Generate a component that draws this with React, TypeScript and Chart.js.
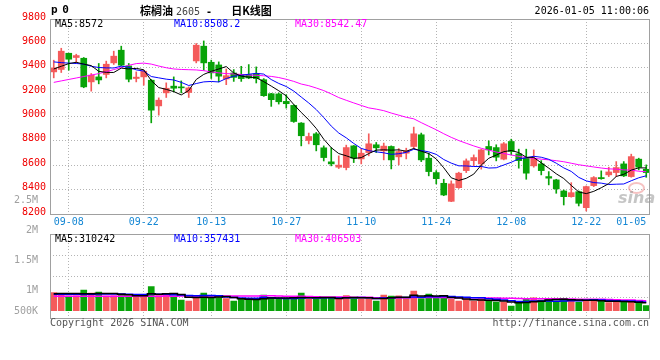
import React, { useEffect, useRef } from "react";
import { Chart, registerables } from "chart.js";

Chart.register(...registerables);

// ---------------- data ----------------
const DATES = [
  "09-04", "09-05", "09-08", "09-09", "09-10", "09-11", "09-12", "09-15", "09-16", "09-17",
  "09-18", "09-19", "09-22", "09-23", "09-24", "09-25", "09-26", "09-29", "09-30", "10-09",
  "10-10", "10-13", "10-14", "10-15", "10-16", "10-17", "10-20", "10-21", "10-22", "10-23",
  "10-24", "10-27", "10-28", "10-29", "10-30", "10-31", "11-03", "11-04", "11-05", "11-06",
  "11-07", "11-10", "11-11", "11-12", "11-13", "11-14", "11-17", "11-18", "11-19", "11-20",
  "11-21", "11-24", "11-25", "11-26", "11-27", "11-28", "12-01", "12-02", "12-03", "12-04",
  "12-05", "12-08", "12-09", "12-10", "12-11", "12-12", "12-15", "12-16", "12-17", "12-18",
  "12-19", "12-22", "12-23", "12-24", "12-25", "12-26", "12-29", "12-30", "12-31", "01-05",
];

const OPEN = [
  9366, 9386, 9519, 9484, 9478, 9284, 9325, 9345, 9440, 9544,
  9415, 9312, 9325, 9298, 9087, 9194, 9249, 9240, 9197, 9456,
  9577, 9445, 9423, 9308, 9357, 9343, 9343, 9349, 9302, 9187,
  9185, 9124, 9091, 8946, 8803, 8858, 8743, 8628, 8584, 8581,
  8759, 8652, 8704, 8768, 8718, 8754, 8669, 8699, 8754, 8850,
  8658, 8540, 8452, 8304, 8416, 8556, 8638, 8611, 8754, 8745,
  8650, 8795, 8694, 8658, 8595, 8611, 8507, 8480, 8389, 8342,
  8383, 8252, 8433, 8499, 8521, 8540, 8611, 8507, 8650, 8567,
];
const HIGH = [
  9462, 9560, 9519, 9511, 9484, 9353, 9435, 9454, 9536, 9577,
  9435, 9366, 9380, 9304, 9153, 9276, 9325, 9292, 9243, 9599,
  9620, 9462, 9448, 9390, 9385, 9412, 9426, 9407, 9311, 9190,
  9193, 9179, 9097, 8950, 8864, 8869, 8759, 8745, 8677, 8765,
  8762, 8737, 8858, 8787, 8782, 8759, 8737, 8740, 8913, 8864,
  8699, 8556, 8485, 8472, 8543, 8652, 8685, 8730, 8800, 8768,
  8787, 8814, 8732, 8732, 8726, 8638, 8548, 8485, 8397, 8457,
  8389, 8430, 8507, 8554, 8584, 8630, 8630, 8691, 8658, 8603,
];
const LOW = [
  9317, 9361, 9380, 9440, 9236, 9208, 9268, 9317, 9427, 9415,
  9284, 9284, 9257, 8948, 9011, 9156, 9202, 9194, 9156, 9440,
  9380, 9312, 9284, 9261, 9288, 9288, 9310, 9275, 9165, 9083,
  9102, 9069, 8952, 8759, 8775, 8718, 8635, 8595, 8573, 8562,
  8622, 8611, 8677, 8704, 8644, 8570, 8603, 8652, 8740, 8630,
  8513, 8447, 8350, 8301, 8410, 8540, 8597, 8568, 8685, 8636,
  8644, 8685, 8576, 8485, 8584, 8521, 8439, 8370, 8274, 8338,
  8266, 8225, 8425, 8485, 8507, 8507, 8507, 8502, 8562, 8501,
];
const CLOSE = [
  9399, 9536, 9470, 9500, 9243, 9339, 9300, 9429, 9495, 9421,
  9306, 9323, 9372, 9052, 9134, 9232, 9232, 9235, 9235, 9585,
  9440, 9358, 9331, 9335, 9321, 9311, 9316, 9311, 9171, 9138,
  9121, 9105, 8959, 8842, 8836, 8768, 8663, 8611, 8601, 8745,
  8658, 8699, 8776, 8743, 8757, 8644, 8712, 8718, 8858, 8644,
  8548, 8490, 8356, 8447, 8535, 8636, 8663, 8726, 8726, 8666,
  8776, 8713, 8638, 8535, 8658, 8556, 8494, 8406, 8342, 8375,
  8288, 8425, 8499, 8490, 8545, 8581, 8513, 8671, 8584, 8540,
];
const VOLUME = [
  729000, 689000, 595000, 598000, 838000, 717000, 757000, 592000, 601000, 676000,
  594000, 567000, 597000, 972000, 608000, 688000, 596000, 433000, 393000, 567000,
  717000, 566000, 527000, 486000, 393000, 458000, 455000, 498000, 636000, 526000,
  457000, 459000, 528000, 717000, 458000, 456000, 527000, 498000, 555000, 608000,
  486000, 485000, 488000, 393000, 636000, 595000, 597000, 486000, 798000, 487000,
  676000, 527000, 525000, 458000, 393000, 457000, 392000, 486000, 394000, 352000,
  353000, 190000, 296000, 458000, 526000, 433000, 457000, 393000, 498000, 457000,
  352000, 405000, 406000, 404000, 324000, 365000, 364000, 366000, 296000, 203000,
];

// Moving-average values before enough history exists
const MA5_HEAD = [9390, 9412, 9434, 9445];
const MA10_HEAD = [9448, 9442, 9438, 9435, 9430, 9412, 9402, 9399, 9398];
const MA30_HEAD = [
  9280, 9292, 9304, 9316, 9328, 9340, 9352, 9368, 9385, 9402,
  9420, 9434, 9438, 9430, 9414, 9400, 9390, 9386, 9384, 9382,
  9376, 9366, 9358, 9352, 9349, 9345, 9340, 9338, 9334,
];
const VMA5_HEAD = [688000, 695000, 700000, 692000];
const VMA10_HEAD = [664000, 662000, 665000, 667000, 668000, 671000, 673000, 676000, 678000];
const VMA30_HEAD = [
  583000, 584000, 583000, 585000, 584000, 586000, 585000, 584000, 586000, 587000,
  585000, 586000, 588000, 590000, 589000, 591000, 590000, 592000, 593000, 595000,
  594000, 596000, 595000, 597000, 598000, 599000, 598000, 600000, 601000,
];

const PRICE_MIN = 8200;
const PRICE_MAX = 9800;
const PRICE_STEP = 200;
const X_TICK_LABELS = ["09-08", "09-22", "10-13", "10-27", "11-10", "11-24", "12-08", "12-22", "01-05"];
const VOL_TICK_LABELS = ["2.5M", "2M", "1.5M", "1M", "500K"];

const MA_TEXT = ["MA5:8572", "MA10:8508.2", "MA30:8542.47"];
const VMA_TEXT = ["MA5:310242", "MA10:357431", "MA30:406503"];

// ---------------- styling ----------------
const RED = "#f45b5b";
const GREEN = "#08a308";
const GRID = "#b4b4b4";
const FRAME = "#a0a0a0";
const MONO = "'DejaVu Sans Mono', 'Liberation Mono', monospace";

function movingAverage(values: number[], n: number, head: number[]): number[] {
  return values.map((_, i) => {
    if (i < n - 1) return head[i];
    let s = 0;
    for (let k = i - n + 1; k <= i; k++) s += values[k];
    return s / n;
  });
}

const candleColors = CLOSE.map((c, i) => (c >= OPEN[i] ? RED : GREEN));

const framePlugin = {
  id: "frame",
  afterDraw(chart: any) {
    const { ctx, chartArea: a } = chart;
    ctx.save();
    ctx.strokeStyle = FRAME;
    ctx.lineWidth = 1;
    ctx.strokeRect(
      Math.round(a.left) + 0.5,
      Math.round(a.top) + 0.5,
      Math.round(a.right - a.left) - 1,
      Math.round(a.bottom - a.top)
    );
    ctx.restore();
  },
};

const xGridColor = (ctx: any) => {
  const d = DATES[ctx.index];
  return X_TICK_LABELS.includes(d) && ctx.index < DATES.length - 1 ? GRID : "rgba(0,0,0,0)";
};

export default function App() {
  const priceRef = useRef<HTMLCanvasElement>(null);
  const volRef = useRef<HTMLCanvasElement>(null);

  useEffect(() => {
    const ma5 = movingAverage(CLOSE, 5, MA5_HEAD);
    const ma10 = movingAverage(CLOSE, 10, MA10_HEAD);
    const ma30 = movingAverage(CLOSE, 30, MA30_HEAD);
    const vma5 = movingAverage(VOLUME, 5, VMA5_HEAD);
    const vma10 = movingAverage(VOLUME, 10, VMA10_HEAD);
    const vma30 = movingAverage(VOLUME, 30, VMA30_HEAD);

    const lineDs = (label: string, data: number[], color: string, extra: any = {}) => ({
      type: "line" as const,
      label,
      data,
      borderColor: color,
      borderWidth: 1,
      pointRadius: 0,
      tension: 0,
      order: 1,
      ...extra,
    });

    const price = new Chart(priceRef.current!, {
      type: "bar",
      data: {
        labels: DATES,
        datasets: [
          {
            type: "bar",
            label: "wick",
            data: LOW.map((l, i) => [l, HIGH[i]]) as any,
            backgroundColor: candleColors,
            barThickness: 1,
            grouped: false,
            order: 3,
          } as any,
          {
            type: "bar",
            label: "body",
            data: OPEN.map((o, i) => [o, CLOSE[i]]) as any,
            backgroundColor: candleColors,
            barThickness: 6,
            minBarLength: 1,
            grouped: false,
            order: 2,
          } as any,
          lineDs("MA5", ma5, "#000000"),
          lineDs("MA10", ma10, "#0000ff"),
          lineDs("MA30", ma30, "#ff00ff"),
        ],
      },
      options: {
        animation: false,
        responsive: false,
        maintainAspectRatio: false,
        layout: { padding: { top: 19, right: 10, bottom: 0, left: 0 } },
        plugins: { legend: { display: false }, tooltip: { enabled: false } },
        scales: {
          x: {
            type: "category",
            offset: true,
            grid: { offset: false, drawTicks: false, color: xGridColor },
            border: { display: false, dash: [1, 2] },
            ticks: {
              autoSkip: false,
              maxRotation: 0,
              minRotation: 0,
              align: "inner",
              padding: 2,
              color: "#1587d4",
              font: { family: MONO, size: 10 },
              callback: (_v: any, i: number) => (X_TICK_LABELS.includes(DATES[i]) ? DATES[i] : ""),
            },
            afterFit: (s: any) => {
              s.height = 18;
              s.paddingLeft = 0;
              s.paddingRight = 0;
            },
          },
          y: {
            type: "linear",
            min: PRICE_MIN,
            max: PRICE_MAX,
            ticks: {
              stepSize: PRICE_STEP,
              autoSkip: false,
              color: "#f00000",
              padding: 4,
              labelOffset: -2,
              font: { family: MONO, size: 10 },
              callback: (v: any) => String(v),
            },
            grid: {
              drawTicks: false,
              color: (ctx: any) =>
                ctx.tick && (ctx.tick.value === PRICE_MIN || ctx.tick.value === PRICE_MAX)
                  ? "rgba(0,0,0,0)"
                  : GRID,
            },
            border: { display: false, dash: [1, 2] },
            afterFit: (s: any) => {
              s.width = 50;
            },
          },
        },
      } as any,
      plugins: [framePlugin],
    });

    const vol = new Chart(volRef.current!, {
      type: "bar",
      data: {
        labels: DATES,
        datasets: [
          {
            type: "bar",
            label: "volume",
            data: VOLUME,
            backgroundColor: candleColors,
            barThickness: 6,
            yAxisID: "v",
            order: 2,
          } as any,
          lineDs("VMA5", vma5, "#000000", { yAxisID: "v", stepped: "middle", borderWidth: 1.5 }),
          lineDs("VMA10", vma10, "#0000ff", { yAxisID: "v", stepped: "middle", borderWidth: 1.5 }),
          lineDs("VMA30", vma30, "#ff00ff", { yAxisID: "v", stepped: "middle", borderWidth: 1.5 }),
        ],
      },
      options: {
        animation: false,
        responsive: false,
        maintainAspectRatio: false,
        layout: { padding: { top: 46, right: 10, bottom: 41.7, left: 0 } },
        plugins: { legend: { display: false }, tooltip: { enabled: false } },
        scales: {
          x: {
            type: "category",
            offset: true,
            grid: { offset: false, drawTicks: false, color: xGridColor },
            border: { display: false, dash: [1, 2] },
            ticks: { display: false },
            afterFit: (s: any) => {
              s.height = 0;
              s.paddingLeft = 0;
              s.paddingRight = 0;
            },
          },
          v: {
            type: "linear",
            display: false,
            min: -308000,
            max: 3106000,
          },
          vgrid: {
            type: "linear",
            position: "right",
            min: 0,
            max: 4,
            ticks: { display: false, stepSize: 1 },
            grid: {
              drawTicks: false,
              color: (ctx: any) =>
                ctx.tick && (ctx.tick.value === 0 || ctx.tick.value === 4) ? "rgba(0,0,0,0)" : GRID,
            },
            border: { display: false, dash: [1, 2] },
            afterFit: (s: any) => {
              s.width = 0;
            },
          },
          vlab: {
            type: "linear",
            position: "left",
            min: 0,
            max: 4,
            grid: { display: false },
            border: { display: false },
            ticks: {
              autoSkip: false,
              color: "#a0a0a0",
              padding: 4,
              font: { family: MONO, size: 10 },
              callback: (_v: any, i: number) => VOL_TICK_LABELS[i],
            },
            afterBuildTicks: (s: any) => {
              // label slots on the 4-band volume grid
              s.ticks = [5.58, 4.19, 2.77, 1.34, 0.35].map((value) => ({ value }));
            },
            afterFit: (s: any) => {
              s.width = 50;
            },
          },
        },
      } as any,
      plugins: [framePlugin],
    });

    return () => {
      price.destroy();
      vol.destroy();
    };
  }, []);

  const txt = (style: React.CSSProperties): React.CSSProperties => ({
    position: "absolute",
    fontFamily: MONO,
    fontSize: 10,
    lineHeight: "12px",
    whiteSpace: "pre",
    ...style,
  });

  return (
    <div
      style={{
        position: "fixed",
        left: 0,
        top: 0,
        width: 660,
        height: 360,
        background: "#ffffff",
        overflow: "hidden",
      }}
    >
      <canvas
        ref={priceRef}
        width={660}
        height={232}
        style={{ position: "absolute", left: 0, top: 0 }}
      />
      <canvas
        ref={volRef}
        width={660}
        height={172}
        style={{ position: "absolute", left: 0, top: 188 }}
      />

      {/* header */}
      <div style={txt({ left: 51, top: 3, fontSize: 11, fontWeight: "bold", lineHeight: "13px", letterSpacing: "-1px", color: "#000" })}>
        p 0
      </div>
      <div style={{ position: "absolute", left: 140, top: 2, lineHeight: "15px", whiteSpace: "pre", color: "#000" }}>
        <span style={{ fontFamily: "'Noto Sans CJK SC'", fontWeight: "bold", fontSize: 11 }}>棕榈油</span>
        <span style={{ fontFamily: MONO, fontSize: 10, color: "#444", marginLeft: 3 }}>2605</span>
        <span style={{ fontFamily: MONO, fontSize: 10, fontWeight: "bold" }}> - </span>
        <span style={{ fontFamily: "'Noto Sans CJK SC'", fontWeight: "bold", fontSize: 11, marginLeft: 13 }}>日K线图</span>
      </div>
      <div style={txt({ right: 11, top: 5, color: "#000" })}>2026-01-05 11:00:06</div>

      {/* price MA legend */}
      <div style={txt({ left: 55, top: 18, color: "#000" })}>{MA_TEXT[0]}</div>
      <div style={txt({ left: 174, top: 18, color: "#0000ff" })}>{MA_TEXT[1]}</div>
      <div style={txt({ left: 295, top: 18, color: "#ff00ff" })}>{MA_TEXT[2]}</div>

      {/* volume MA legend */}
      <div style={txt({ left: 55, top: 233, color: "#000" })}>{VMA_TEXT[0]}</div>
      <div style={txt({ left: 174, top: 233, color: "#0000ff" })}>{VMA_TEXT[1]}</div>
      <div style={txt({ left: 295, top: 233, color: "#ff00ff" })}>{VMA_TEXT[2]}</div>

      {/* watermark */}
      <div
        style={{
          position: "absolute",
          left: 628,
          top: 182,
          width: 13,
          height: 8,
          borderRadius: "50%",
          border: "2px solid rgba(235,120,120,0.45)",
        }}
      />
      <div
        style={{
          position: "absolute",
          left: 618,
          top: 189,
          fontFamily: "'DejaVu Sans', sans-serif",
          fontStyle: "italic",
          fontWeight: "bold",
          fontSize: 16,
          lineHeight: "18px",
          color: "rgba(150,150,150,0.55)",
        }}
      >
        sina
      </div>

      {/* footer */}
      <div style={txt({ left: 50, top: 317, color: "#555" })}>Copyright 2026 SINA.COM</div>
      <div style={txt({ right: 11, top: 317, color: "#555" })}>http://finance.sina.com.cn</div>
    </div>
  );
}
